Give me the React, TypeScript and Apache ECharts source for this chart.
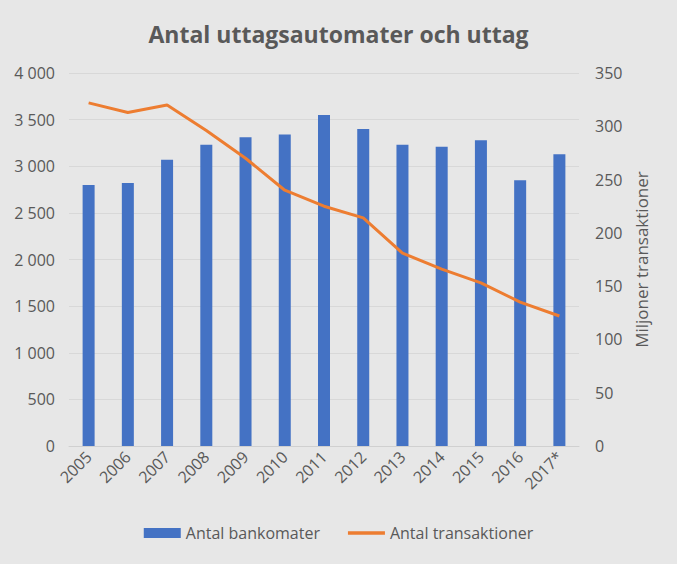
import React, { useEffect, useRef } from "react";
import * as echarts from "echarts";

const years = ["2005", "2006", "2007", "2008", "2009", "2010", "2011", "2012", "2013", "2014", "2015", "2016", "2017*"];
const bankomater = [2800, 2820, 3070, 3230, 3310, 3340, 3550, 3400, 3230, 3210, 3280, 2850, 3130];
const transaktioner = [322, 313, 320, 296, 270, 240, 225, 214, 181, 166, 153, 135, 122];

const FONT = "'Open Sans', 'Noto Sans', sans-serif";
const GREY = "#595959";

export default function App() {
  const ref = useRef<HTMLDivElement>(null);
  useEffect(() => {
    if (!ref.current) return;
    const chart = echarts.init(ref.current, undefined, { renderer: "svg" });
    chart.setOption({
      animation: false,
      backgroundColor: "#e7e7e7",
      textStyle: { fontFamily: FONT },
      title: {
        text: "Antal uttagsautomater och uttag",
        left: "center",
        top: 17,
        textStyle: { fontFamily: FONT, fontSize: 23, fontWeight: "bold", color: GREY },
      },
      legend: {
        bottom: 18,
        left: "center",
        itemGap: 28,
        itemWidth: 37,
        itemHeight: 10,
        textStyle: { fontFamily: FONT, fontSize: 16, color: GREY },
        data: [
          { name: "Antal bankomater", icon: "rect" },
          { name: "Antal transaktioner", icon: "path://M0,0h40v4h-40z" },
        ],
      },
      grid: { left: 69, right: 98, top: 73, bottom: 118, containLabel: false },
      xAxis: {
        type: "category",
        data: years,
        axisLine: { show: true, lineStyle: { color: "#d0d0d0" } },
        axisTick: { show: false },
        axisLabel: { rotate: 45, color: GREY, fontSize: 16, fontFamily: FONT, margin: 8, interval: 0 },
      },
      yAxis: [
        {
          type: "value",
          min: 0,
          max: 4000,
          interval: 500,
          axisLine: { show: false },
          axisTick: { show: false },
          splitLine: { lineStyle: { color: "#d8d8d8" } },
          axisLabel: {
            color: GREY,
            fontSize: 16,
            fontFamily: FONT,
            margin: 14,
            formatter: (v: number) => String(v).replace(/\B(?=(\d{3})+(?!\d))/g, " "),
          },
        },
        {
          type: "value",
          min: 0,
          max: 350,
          interval: 50,
          position: "right",
          axisLine: { show: false },
          axisTick: { show: false },
          splitLine: { show: false },
          axisLabel: { color: GREY, fontSize: 16, fontFamily: FONT, margin: 16 },
          name: "Miljoner transaktioner",
          nameLocation: "middle",
          nameRotate: 90,
          nameGap: 54,
          nameTextStyle: { color: GREY, fontSize: 17, fontFamily: FONT },
        },
      ],
      series: [
        {
          name: "Antal bankomater",
          type: "bar",
          data: bankomater,
          barWidth: 12,
          itemStyle: { color: "#4472C4" },
        },
        {
          name: "Antal transaktioner",
          type: "line",
          yAxisIndex: 1,
          data: transaktioner,
          symbol: "none",
          lineStyle: { color: "#ED7D31", width: 3 },
          itemStyle: { color: "#ED7D31" },
        },
      ],
    });
    return () => chart.dispose();
  }, []);
  return <div ref={ref} style={{ position: "absolute", left: 0, top: 0, width: 677, height: 564 }} />;
}
